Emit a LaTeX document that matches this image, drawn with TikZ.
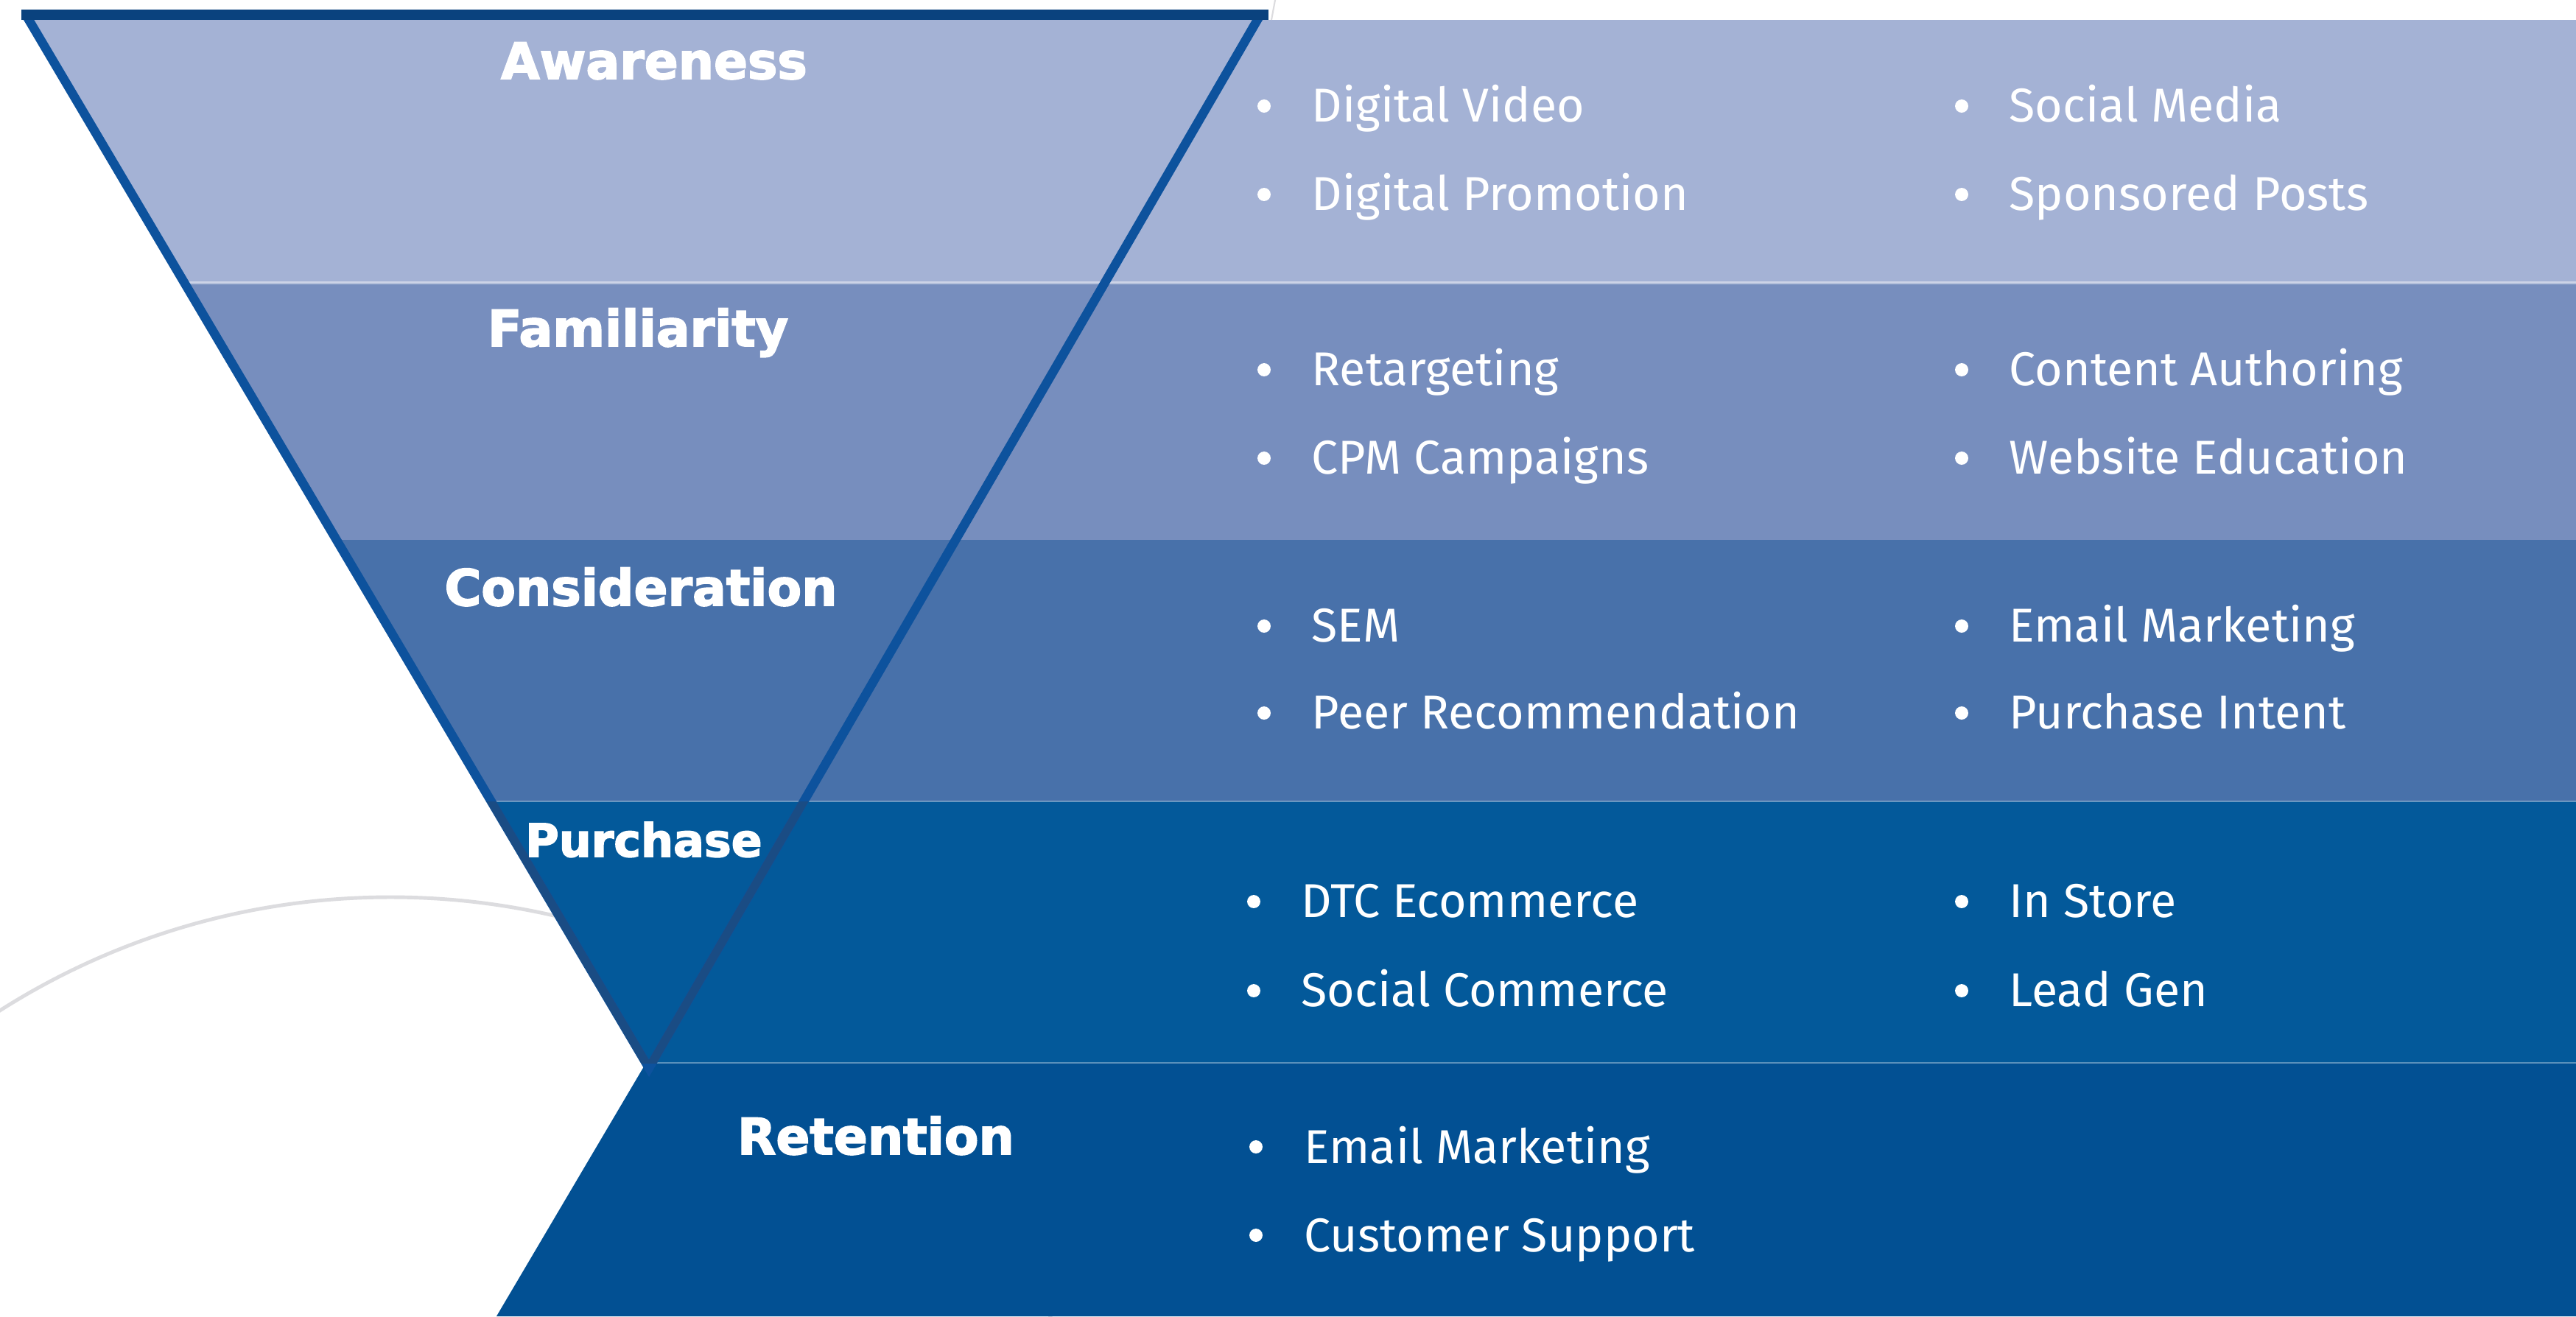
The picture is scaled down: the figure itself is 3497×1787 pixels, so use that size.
\documentclass[tikz,border=0pt]{standalone}
\usepackage{fontspec}
\setmainfont{Fira Sans}
\newfontfamily\headfont{DejaVu Sans Bold}[FakeBold=2.6]
\definecolor{bandA}{HTML}{A4B2D5}
\definecolor{bandB}{HTML}{778EBE}
\definecolor{bandC}{HTML}{4871AA}
\definecolor{bandD}{HTML}{03599A}
\definecolor{bandE}{HTML}{025093}
\definecolor{funnelblue}{HTML}{0D529D}
\definecolor{funneldark}{HTML}{1E4B7E}
\definecolor{arcgrey}{HTML}{DCDCDF}
\tikzset{
  stage/.style={font=\headfont\fontsize{19.3pt}{21pt}\selectfont, text=white, anchor=base, inner sep=0pt},
  item/.style={font=\fontsize{18.35pt}{20pt}\selectfont, text=white, anchor=base west, inner sep=0pt},
  dot/.style={circle, fill=white, minimum size=5.1pt, inner sep=0pt},
  sep/.style={line width=0.75pt, white, opacity=0.35},
}
\begin{document}
\begin{tikzpicture}[x=0.01cm, y=-0.01cm]
\useasboundingbox (0,0) rectangle (3497,1787);
\fill[white] (0,0) rectangle (3497,1787);

% faint background circle
\begin{scope}
  \clip (0,0) rectangle (3497,1787);
  \draw[arcgrey, line width=1.4pt] (530,2207) circle[radius=989];
\end{scope}

% stage bands
\fill[bandA] (39,27) -- (3497,27) -- (3497,384) -- (250,384) -- cycle;
\fill[bandB] (250,384) -- (3497,384) -- (3497,733) -- (457,733) -- cycle;
\fill[bandC] (457,733) -- (3497,733) -- (3497,1088) -- (667,1088) -- cycle;
\fill[bandD] (667,1088) -- (3497,1088) -- (3497,1443) -- (877,1443) -- cycle;
\fill[bandE] (877,1443) -- (3497,1443) -- (3497,1787) -- (674,1787) -- cycle;

% band separators
\draw[line width=1.1pt, white, opacity=0.45] (250,384) -- (3497,384);
\draw[sep] (667,1088) -- (3497,1088);
\draw[sep] (877,1443) -- (3497,1443);

% thin guide at the top edge
\draw[arcgrey, line width=0.6pt] (1726,27) -- (1731,0);

% funnel outline
\draw[funnelblue, line width=3.5pt, line join=miter] (35,20) -- (881,1450) -- (1711,20);
\begin{scope}
  \clip (600,1088) rectangle (1200,1443);
  \draw[funneldark, line width=3.2pt, opacity=0.8] (35,20) -- (881,1450) -- (1711,20);
\end{scope}
\draw[funnelblue!80!black, line width=4.2pt] (29,20) -- (1722,20);

% stage titles
\node[stage] (awareness) at (888,107) {Awareness};
\node[stage] (familiarity) at (866,470) {Familiarity};
\node[stage] (consideration) at (870,822) {Consideration};
\node[stage, font=\headfont\fontsize{17.6pt}{19pt}\selectfont] (purchase) at (874,1163) {Purchase};
\node[stage] (retention) at (1189,1567) {Retention};

% awareness items
\node[dot] (a1d) at (1716,144) {};
\node[item] (a1) at (1780,165) {Digital Video};
\node[dot] (a2d) at (1716,264) {};
\node[item] (a2) at (1780,285) {Digital Promotion};
\node[dot] (a3d) at (2663,144) {};
\node[item] (a3) at (2727,165) {Social Media};
\node[dot] (a4d) at (2663,264) {};
\node[item] (a4) at (2727,285) {Sponsored Posts};

% familiarity items
\node[dot] (f1d) at (1716,502) {};
\node[item] (f1) at (1780,523) {Retargeting};
\node[dot] (f2d) at (1716,622) {};
\node[item] (f2) at (1780,643) {CPM Campaigns};
\node[dot] (f3d) at (2663,502) {};
\node[item] (f3) at (2727,523) {Content Authoring};
\node[dot] (f4d) at (2663,622) {};
\node[item] (f4) at (2727,643) {Website Education};

% consideration items
\node[dot] (c1d) at (1716,850) {};
\node[item] (c1) at (1780,871) {SEM};
\node[dot] (c2d) at (1716,968) {};
\node[item] (c2) at (1780,989) {Peer Recommendation};
\node[dot] (c3d) at (2663,850) {};
\node[item] (c3) at (2727,871) {Email Marketing};
\node[dot] (c4d) at (2663,968) {};
\node[item] (c4) at (2727,989) {Purchase Intent};

% purchase items
\node[dot] (p1d) at (1702,1224) {};
\node[item] (p1) at (1766,1245) {DTC Ecommerce};
\node[dot] (p2d) at (1702,1345) {};
\node[item] (p2) at (1766,1366) {Social Commerce};
\node[dot] (p3d) at (2663,1224) {};
\node[item] (p3) at (2727,1245) {In Store};
\node[dot] (p4d) at (2663,1345) {};
\node[item] (p4) at (2727,1366) {Lead Gen};

% retention items
\node[dot] (r1d) at (1705,1557) {};
\node[item] (r1) at (1770,1579) {Email Marketing};
\node[dot] (r2d) at (1705,1677) {};
\node[item] (r2) at (1770,1699) {Customer Support};
\end{tikzpicture}
\end{document}
